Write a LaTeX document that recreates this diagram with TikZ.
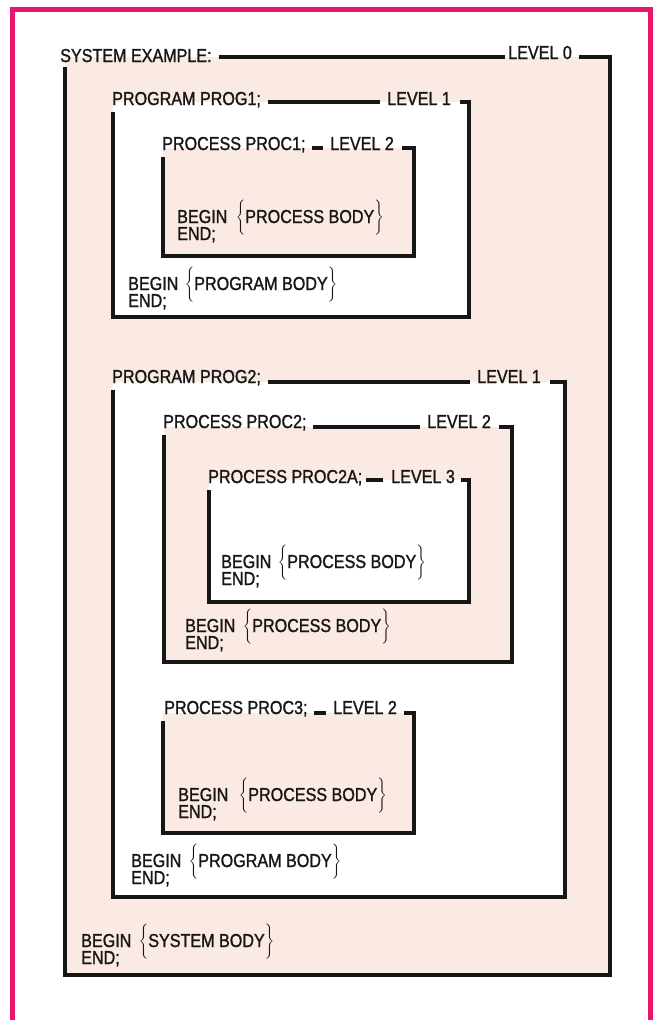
\documentclass[tikz,border=0pt]{standalone}
\usepackage{fontspec}
\usepackage{tikz}
\usetikzlibrary{calc}
\newfontfamily\lblfont{Liberation Sans}[FakeStretch=0.86,FakeBold=1.3]
\definecolor{framepink}{RGB}{233,22,110}
\definecolor{boxpink}{RGB}{251,234,227}
\definecolor{ink}{RGB}{22,22,22}
\newcommand{\bodybrace}[1]{$\left\{\vrule height 20pt depth 12pt width 0pt\mbox{#1}\right\}$}

\begin{document}
\begin{tikzpicture}[x=0.3mm,y=-0.3mm,
  frame/.style={draw=framepink,line width=1.5mm},
  lvl/.style={draw=ink,line width=1mm},
  lbl/.style={font=\lblfont\fontsize{16}{16}\selectfont,text=ink,inner sep=0pt,anchor=base west}]
  \useasboundingbox (0,0) rectangle (654,1020);
  \draw[frame] (12,1020)--(12,9)--(650,9)--(650,1020);

  \coordinate (b0nw) at (65,57);  \coordinate (b0ne) at (610,57);
  \coordinate (b0sw) at (65,975); \coordinate (b0se) at (610,975);
  \coordinate (b1nw) at (113,102); \coordinate (b1ne) at (469,102);
  \coordinate (b1sw) at (113,317); \coordinate (b1se) at (469,317);
  \coordinate (b2nw) at (163,148); \coordinate (b2ne) at (414,148);
  \coordinate (b2sw) at (163,256); \coordinate (b2se) at (414,256);
  \coordinate (b3nw) at (113,382); \coordinate (b3ne) at (565,382);
  \coordinate (b3sw) at (113,897); \coordinate (b3se) at (565,897);
  \coordinate (b4nw) at (164,427); \coordinate (b4ne) at (512,427);
  \coordinate (b4sw) at (164,662); \coordinate (b4se) at (512,662);
  \coordinate (b5nw) at (209,480); \coordinate (b5ne) at (469,480);
  \coordinate (b5sw) at (209,602); \coordinate (b5se) at (469,602);
  \coordinate (b6nw) at (163,713); \coordinate (b6ne) at (414,713);
  \coordinate (b6sw) at (163,833); \coordinate (b6se) at (414,833);

  \fill[boxpink] (b0nw) rectangle (b0se);
  \fill[white] (b1nw) rectangle (b1se);
  \fill[white] (b3nw) rectangle (b3se);
  \fill[boxpink] (b2nw) rectangle (b2se);
  \fill[boxpink] (b4nw) rectangle (b4se);
  \fill[boxpink] (b6nw) rectangle (b6se);
  \fill[white] (b5nw) rectangle (b5se);

  \node[lbl] (t0) at (60,62) {SYSTEM EXAMPLE:};
  \node[lbl] (l0) at (508,59) {LEVEL 0};
  \node[lbl] (t1) at (112,105) {PROGRAM PROG1;};
  \node[lbl] (l1) at (387,105) {LEVEL 1};
  \node[lbl] (t2) at (162,150) {PROCESS PROC1;};
  \node[lbl] (l2) at (330,150) {LEVEL 2};
  \node[lbl] (t3) at (112,383) {PROGRAM PROG2;};
  \node[lbl] (l3) at (477,383) {LEVEL 1};
  \node[lbl] (t4) at (163,428) {PROCESS PROC2;};
  \node[lbl] (l4) at (427,428) {LEVEL 2};
  \node[lbl] (t5) at (208,483) {PROCESS PROC2A;};
  \node[lbl] (l5) at (391,483) {LEVEL 3};
  \node[lbl] (t6) at (164,714) {PROCESS PROC3;};
  \node[lbl] (l6) at (333,714) {LEVEL 2};

  \draw[lvl,shorten <=2mm,shorten >=1mm] (t0.east |- b0nw) -- (l0.west |- b0nw);
  \draw[lvl] ($(l0.east |- b0nw)+(7,0)$) -- (b0ne) -- (b0se) -- (b0sw) -- ($(t0.south west -| b0sw)+(0,5)$);
  \draw[lvl,shorten <=2mm,shorten >=2mm] (t1.east |- b1nw) -- (l1.west |- b1nw);
  \draw[lvl] ($(l1.east |- b1nw)+(9,0)$) -- (b1ne) -- (b1se) -- (b1sw) -- ($(t1.south west -| b1sw)+(0,4)$);
  \draw[lvl,shorten <=2mm,shorten >=2mm] (t2.east |- b2nw) -- (l2.west |- b2nw);
  \draw[lvl] ($(l2.east |- b2nw)+(8,0)$) -- (b2ne) -- (b2se) -- (b2sw) -- ($(t2.south west -| b2sw)+(0,4)$);
  \draw[lvl,shorten <=2mm,shorten >=2mm] (t3.east |- b3nw) -- (l3.west |- b3nw);
  \draw[lvl] ($(l3.east |- b3nw)+(9,0)$) -- (b3ne) -- (b3se) -- (b3sw) -- ($(t3.south west -| b3sw)+(0,4)$);
  \draw[lvl,shorten <=2mm,shorten >=2mm] (t4.east |- b4nw) -- (l4.west |- b4nw);
  \draw[lvl] ($(l4.east |- b4nw)+(8,0)$) -- (b4ne) -- (b4se) -- (b4sw) -- ($(t4.south west -| b4sw)+(0,4)$);
  \draw[lvl,shorten <=1mm,shorten >=2.5mm] (t5.east |- b5nw) -- (l5.west |- b5nw);
  \draw[lvl] ($(l5.east |- b5nw)+(6,0)$) -- (b5ne) -- (b5se) -- (b5sw) -- ($(t5.south west -| b5sw)+(0,4)$);
  \draw[lvl,shorten <=2mm,shorten >=2mm] (t6.east |- b6nw) -- (l6.west |- b6nw);
  \draw[lvl] ($(l6.east |- b6nw)+(7,0)$) -- (b6ne) -- (b6se) -- (b6sw) -- ($(t6.south west -| b6sw)+(0,4)$);

  \node[lbl] (bg2) at (177,223) {BEGIN};
  \node[lbl] (en2) at (177,240) {END;};
  \node[lbl] (bd2) at ($(bg2.base east)+(8,0)$) {\bodybrace{PROCESS BODY}};
  \node[lbl] (bg1) at (128,290) {BEGIN};
  \node[lbl] (en1) at (128,307) {END;};
  \node[lbl] (bd1) at ($(bg1.base east)+(6,0)$) {\bodybrace{PROGRAM BODY}};
  \node[lbl] (bg5) at (221,568) {BEGIN};
  \node[lbl] (en5) at (221,585) {END;};
  \node[lbl] (bd5) at ($(bg5.base east)+(6,0)$) {\bodybrace{PROCESS BODY}};
  \node[lbl] (bg4) at (185,632) {BEGIN};
  \node[lbl] (en4) at (185,649) {END;};
  \node[lbl] (bd4) at ($(bg4.base east)+(7,0)$) {\bodybrace{PROCESS BODY}};
  \node[lbl] (bg6) at (178,801) {BEGIN};
  \node[lbl] (en6) at (178,818) {END;};
  \node[lbl] (bd6) at ($(bg6.base east)+(10,0)$) {\bodybrace{PROCESS BODY}};
  \node[lbl] (bg3) at (131,867) {BEGIN};
  \node[lbl] (en3) at (131,884) {END;};
  \node[lbl] (bd3) at ($(bg3.base east)+(7,0)$) {\bodybrace{PROGRAM BODY}};
  \node[lbl] (bg0) at (81,947) {BEGIN};
  \node[lbl] (en0) at (81,964) {END;};
  \node[lbl] (bd0) at ($(bg0.base east)+(7,0)$) {\bodybrace{SYSTEM BODY}};
\end{tikzpicture}
\end{document}
